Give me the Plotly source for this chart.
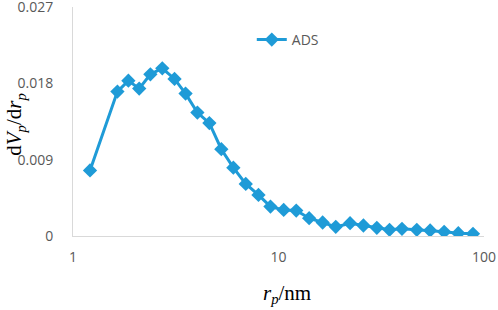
import plotly.graph_objects as go

# Pore radius (nm) and dV/dr values
rp = [1.21, 1.645, 1.86, 2.10, 2.38, 2.72, 3.12, 3.53, 4.03, 4.61,
      5.27, 6.03, 6.93, 7.99, 9.14, 10.6, 12.2, 14.1, 16.4, 19.0,
      22.3, 25.9, 30.1, 34.7, 39.9, 47.1, 54.7, 64.0, 75.0, 88.4]
dvdr = [0.00774, 0.01704, 0.01833, 0.01739, 0.01908, 0.01979, 0.01853, 0.0168, 0.01456, 0.01332,
        0.01024, 0.00806, 0.00614, 0.00485, 0.00347, 0.00308, 0.0030, 0.0021, 0.00159, 0.00108,
        0.00151, 0.00124, 0.00096, 0.00073, 0.00085, 0.00073, 0.00065, 0.00049, 0.00033, 0.00026]

y_ticks = [0, 0.009, 0.018, 0.027]
y_ticktext = ["0", "0.009", "0.018", "0.027"]
x_ticks = [1, 10, 100]
x_ticktext = ["1", "10", "100"]

blue = "#1f9bd7"
grey_text = "#595959"
axis_col = "#d9d9d9"

fig = go.Figure()
fig.add_trace(go.Scatter(
    x=rp, y=dvdr, mode="lines+markers", name="ADS",
    line=dict(color=blue, width=3),
    marker=dict(symbol="diamond", size=11, color=blue),
))

fig.update_layout(
    width=498, height=310,
    margin=dict(l=73, r=14, t=7, b=73.5),
    paper_bgcolor="white", plot_bgcolor="white",
    font=dict(family="Open Sans", size=14, color=grey_text),
    showlegend=True,
    legend=dict(x=0.435, y=0.856, xanchor="left", yanchor="middle",
                bgcolor="rgba(0,0,0,0)", font=dict(size=14, color=grey_text)),
    xaxis=dict(type="log", range=[0, 2.0001], tickvals=x_ticks, ticktext=x_ticktext,
               showgrid=False, zeroline=False, showline=True, linecolor=axis_col,
               linewidth=1, ticks="", ticklabelstandoff=8, ticklabeloverflow="allow",
               automargin=False),
    yaxis=dict(range=[0, 0.02702], tickvals=y_ticks, ticktext=y_ticktext,
               showgrid=False, zeroline=False, showline=True, linecolor=axis_col,
               linewidth=1, ticks="", ticklabelstandoff=16, ticklabeloverflow="allow",
               automargin=False),
)

fig.add_annotation(
    text="d<i>V</i><sub><i>p</i></sub>/d<i>r</i><sub><i>p</i></sub>",
    xref="paper", yref="paper", x=0, y=0.486, xanchor="center", yanchor="middle",
    xshift=-58, textangle=-90, showarrow=False,
    font=dict(family="Liberation Serif", size=21, color="black"),
)
fig.add_annotation(
    text="<i>r</i><sub><i>p</i></sub>/nm",
    xref="paper", yref="paper", x=0.52, y=0, xanchor="center", yanchor="middle",
    yshift=-57.5, showarrow=False,
    font=dict(family="Liberation Serif", size=21, color="black"),
)

fig.write_html("out.html", config={"displayModeBar": False},
               post_script="document.body.style.margin='0';")
